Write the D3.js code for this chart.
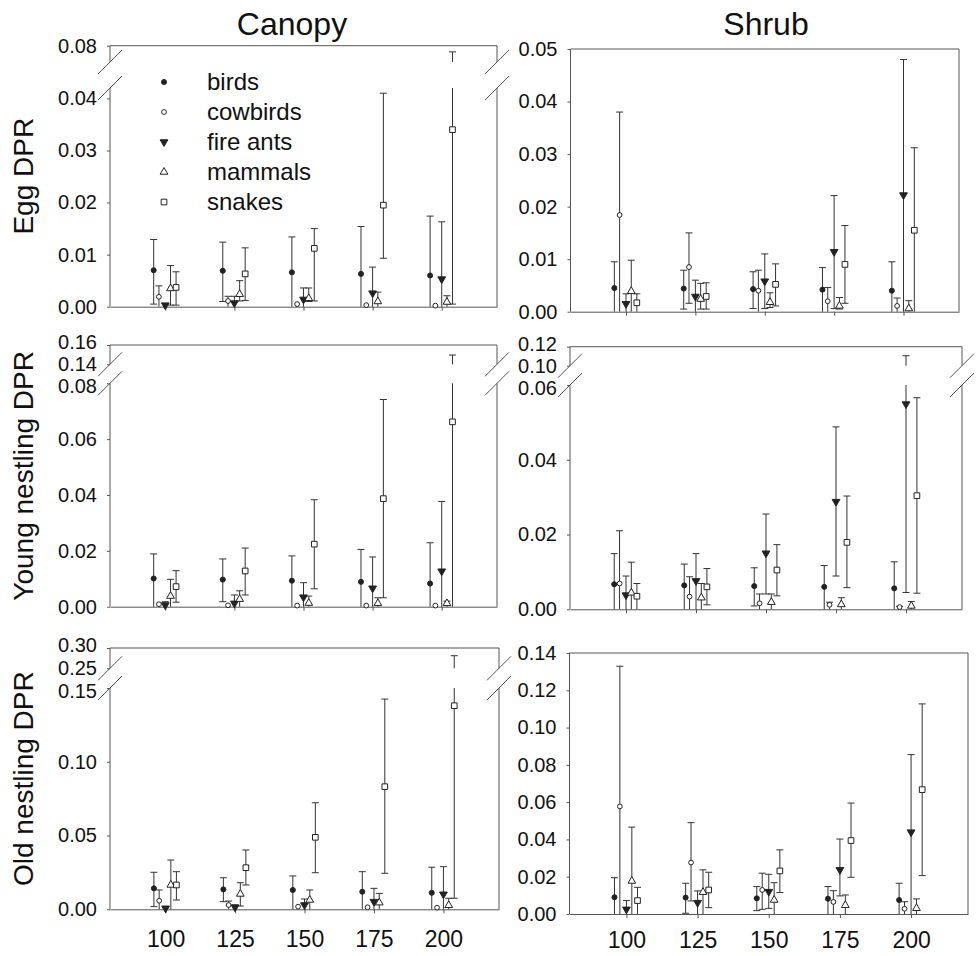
<!DOCTYPE html>
<html>
<head>
<meta charset="utf-8">
<script src="https://cdn.jsdelivr.net/npm/d3@7"></script>
<style>
  body { margin: 0; background: #fff; }
  text { font-family: "Liberation Sans", Arial, Helvetica, sans-serif; fill: #111; }
</style>
</head>
<body>
<svg id="chart" width="976" height="956"></svg>
<script>
// predator classes, drawn left to right inside each group
var series = ['birds', 'cowbirds', 'fire ants', 'mammals', 'snakes']
var groups = [100, 125, 150, 175, 200]
var columns = ['Canopy', 'Shrub']
var rowLabels = ['Egg DPR', 'Young nestling DPR', 'Old nestling DPR']

// one row per series, one column per group
var eggCanopyMean = [
  [0.0070, 0.0069, 0.0066, 0.0063, 0.0060],
  [0.0019, 0.0011, 0.0005, 0.0003, 0.0002],
  [0.0003, 0.0007, 0.0014, 0.0026, 0.0053],
  [0.0035, 0.0024, 0.0016, 0.0010, 0.0009],
  [0.0037, 0.0063, 0.0112, 0.0195, 0.0340]
]
var eggCanopyHigh = [
  [0.0129, 0.0124, 0.0134, 0.0154, 0.0174],
  [0.0040, 0.0020, 0.0005, 0.0003, 0.0002],
  [0.0003, 0.0020, 0.0036, 0.0076, 0.0163],
  [0.0079, 0.0050, 0.0036, 0.0028, 0.0021],
  [0.0067, 0.0113, 0.0150, 0.0410, 0.0780]
]
var eggCanopyLow = [
  [0.0005, 0.0010, 0, 0, 0],
  [0, 0, 0, 0, 0],
  [0, 0, 0, 0, 0],
  [0.0003, 0.0011, 0.0010, 0, 0],
  [0.0003, 0.0012, 0.0011, 0.0093, 0.0005]
]

var eggShrubMean = [
  [0.0045, 0.0044, 0.0043, 0.0042, 0.0040],
  [0.0184, 0.0085, 0.0040, 0.0020, 0.0011],
  [0.0015, 0.0029, 0.0058, 0.0114, 0.0222],
  [0.0039, 0.0024, 0.0018, 0.0011, 0.0006],
  [0.0017, 0.0029, 0.0052, 0.0090, 0.0155]
]
var eggShrubHigh = [
  [0.0095, 0.0079, 0.0076, 0.0084, 0.0095],
  [0.0380, 0.0150, 0.0079, 0.0046, 0.0026],
  [0.0034, 0.0060, 0.0110, 0.0221, 0.0480],
  [0.0098, 0.0054, 0.0036, 0.0027, 0.0021],
  [0.0034, 0.0055, 0.0091, 0.0164, 0.0312]
]
var eggShrubLow = [
  [0, 0.0005, 0.0006, 0, 0],
  [0, 0.0016, 0, 0, 0],
  [0, 0, 0.0006, 0.0006, 0],
  [0, 0.0005, 0.0008, 0.0005, 0],
  [0, 0.0005, 0.0011, 0.0016, 0]
]

var youngCanopyMean = [
  [0.0101, 0.0097, 0.0093, 0.0089, 0.0083],
  [0.0009, 0.0005, 0.0004, 0.0004, 0.0004],
  [0.0006, 0.0012, 0.0034, 0.0066, 0.0127],
  [0.0038, 0.0027, 0.0013, 0.0012, 0.0012],
  [0.0072, 0.0128, 0.0224, 0.0387, 0.0662]
]
var youngCanopyHigh = [
  [0.0189, 0.0171, 0.0182, 0.0205, 0.0229],
  [0.0009, 0.0005, 0.0004, 0.0004, 0.0004],
  [0.0018, 0.0042, 0.0086, 0.0178, 0.0377],
  [0.0098, 0.0057, 0.0038, 0.0032, 0.0020],
  [0.0129, 0.0210, 0.0383, 0.0742, 0.1496]
]
var youngCanopyLow = [
  [0, 0.0018, 0, 0, 0],
  [0, 0, 0, 0, 0],
  [0, 0, 0, 0, 0],
  [0, 0, 0, 0, 0],
  [0.0016, 0.0042, 0.0064, 0.0032, 0]
]

var youngShrubMean = [
  [0.0067, 0.0064, 0.0062, 0.0060, 0.0056],
  [0.0069, 0.0034, 0.0016, 0.0012, 0.0006],
  [0.0038, 0.0076, 0.0150, 0.0288, 0.0549],
  [0.0044, 0.0031, 0.0019, 0.0013, 0.0009],
  [0.0035, 0.0060, 0.0105, 0.0179, 0.0304]
]
var youngShrubHigh = [
  [0.0149, 0.0121, 0.0111, 0.0117, 0.0127],
  [0.0210, 0.0087, 0.0041, 0.0019, 0.0008],
  [0.0089, 0.0149, 0.0255, 0.0488, 0.1105],
  [0.0126, 0.0069, 0.0041, 0.0031, 0.0021],
  [0.0069, 0.0109, 0.0173, 0.0303, 0.0566]
]
var youngShrubLow = [
  [0, 0, 0.0009, 0, 0],
  [0, 0, 0, 0, 0],
  [0, 0, 0.0041, 0.0089, 0.0045],
  [0, 0, 0, 0, 0],
  [0, 0.0012, 0.0036, 0.0058, 0.0043]
]

var oldCanopyMean = [
  [0.0142, 0.0135, 0.0131, 0.0119, 0.0112],
  [0.0058, 0.0029, 0.0018, 0.0014, 0.0011],
  [0.0007, 0.0014, 0.0029, 0.0052, 0.0102],
  [0.0165, 0.0104, 0.0063, 0.0045, 0.0027],
  [0.0165, 0.0282, 0.0488, 0.0831, 0.1380]
]
var oldCanopyHigh = [
  [0.0251, 0.0214, 0.0226, 0.0255, 0.0285],
  [0.0131, 0.0056, 0.0018, 0.0014, 0.0011],
  [0.0007, 0.0030, 0.0070, 0.0142, 0.0289],
  [0.0334, 0.0180, 0.0131, 0.0108, 0.0075],
  [0.0255, 0.0402, 0.0722, 0.1425, 0.2810]
]
var oldCanopyLow = [
  [0.0018, 0.0052, 0, 0, 0],
  [0, 0, 0, 0, 0],
  [0, 0, 0, 0, 0],
  [0, 0.0022, 0, 0, 0],
  [0.0063, 0.0165, 0.0248, 0.0244, 0.0075]
]

var oldShrubMean = [
  [0.0090, 0.0088, 0.0084, 0.0082, 0.0075],
  [0.0577, 0.0276, 0.0129, 0.0065, 0.0028],
  [0.0025, 0.0061, 0.0120, 0.0237, 0.0439],
  [0.0177, 0.0117, 0.0075, 0.0047, 0.0031],
  [0.0072, 0.0129, 0.0231, 0.0394, 0.0667]
]
var oldShrubHigh = [
  [0.0195, 0.0165, 0.0147, 0.0147, 0.0165],
  [0.1329, 0.0490, 0.0219, 0.0125, 0.0066],
  [0.0072, 0.0124, 0.0213, 0.0402, 0.0855],
  [0.0466, 0.0237, 0.0168, 0.0102, 0.0081],
  [0.0143, 0.0224, 0.0344, 0.0595, 0.1127]
]
var oldShrubLow = [
  [0, 0.0004, 0.0018, 0, 0],
  [0, 0.0070, 0.0025, 0, 0],
  [0, 0, 0.0030, 0.0097, 0],
  [0, 0, 0, 0, 0],
  [0, 0.0034, 0.0115, 0.0197, 0.0206]
]

// tick labels per panel
var eggCanopyTicks = [0, 0.01, 0.02, 0.03, 0.04, 0.08]
var eggShrubTicks = [0, 0.01, 0.02, 0.03, 0.04, 0.05]
var youngCanopyTicks = [0, 0.02, 0.04, 0.06, 0.08, 0.14, 0.16]
var youngShrubTicks = [0, 0.02, 0.04, 0.06, 0.10, 0.12]
var oldCanopyTicks = [0, 0.05, 0.10, 0.15, 0.25, 0.30]
var oldShrubTicks = [0, 0.02, 0.04, 0.06, 0.08, 0.10, 0.12, 0.14]

// y domains; four stops = broken axis (low segment, then high segment)
var eggCanopyDomain = [0, 0.042, 0.0747, 0.08]
var eggShrubDomain = [0, 0.05]
var youngCanopyDomain = [0, 0.08, 0.14, 0.16]
var youngShrubDomain = [0, 0.06, 0.10, 0.12]
var oldCanopyDomain = [0, 0.15, 0.25, 0.30]
var oldShrubDomain = [0, 0.14]

var siteDomain = [80, 220]
// small horizontal dodge of each series around the group value
var dodge = [-4.2, -2.3, 0, 1.9, 3.9]

var panels = [
  {col: 0, row: 0, mean: eggCanopyMean, hi: eggCanopyHigh, lo: eggCanopyLow, ticks: eggCanopyTicks, domain: eggCanopyDomain,
   xr: [110, 497], yr: [306.7, 88, 62, 45.7]},
  {col: 1, row: 0, mean: eggShrubMean, hi: eggShrubHigh, lo: eggShrubLow, ticks: eggShrubTicks, domain: eggShrubDomain,
   xr: [570.5, 959], yr: [311.7, 49]},
  {col: 0, row: 1, mean: youngCanopyMean, hi: youngCanopyHigh, lo: youngCanopyLow, ticks: youngCanopyTicks, domain: youngCanopyDomain,
   xr: [110, 497], yr: [606.7, 383.3, 364.3, 345]},
  {col: 1, row: 1, mean: youngShrubMean, hi: youngShrubHigh, lo: youngShrubLow, ticks: youngShrubTicks, domain: youngShrubDomain,
   xr: [570, 962], yr: [609.3, 385, 365.7, 346.7]},
  {col: 0, row: 2, mean: oldCanopyMean, hi: oldCanopyHigh, lo: oldCanopyLow, ticks: oldCanopyTicks, domain: oldCanopyDomain,
   xr: [110, 499], yr: [909.3, 688, 668.3, 648]},
  {col: 1, row: 2, mean: oldShrubMean, hi: oldShrubHigh, lo: oldShrubLow, ticks: oldShrubTicks, domain: oldShrubDomain,
   xr: [569.5, 968], yr: [914, 653]}
]

var svg = d3.select('#chart')
var ink = '#222'
var lineInk = '#555'

var symbols = [
  {type: d3.symbolCircle, size: 20, fill: ink, rotate: 0},
  {type: d3.symbolCircle, size: 18, fill: '#fff', rotate: 0},
  {type: d3.symbolTriangle, size: 26, fill: ink, rotate: 180},
  {type: d3.symbolTriangle, size: 26, fill: '#fff', rotate: 0},
  {type: d3.symbolSquare, size: 32, fill: '#fff', rotate: 0}
]

function drawMarker(g, s, cx, cy) {
  var sym = symbols[s]
  g.append('path')
   .attr('d', d3.symbol().type(sym.type).size(sym.size)())
   .attr('transform', 'translate(' + cx + ',' + cy + ') rotate(' + sym.rotate + ')')
   .attr('fill', sym.fill)
   .attr('stroke', ink)
   .attr('stroke-width', 1)
}

panels.forEach(function(p) {
  var x = d3.scaleLinear().domain(siteDomain).range(p.xr)
  var y = d3.scaleLinear().domain(p.domain).range(p.yr)
  var broken = p.domain.length == 4
  var x0 = p.xr[0], x1 = p.xr[1]
  var yBottom = p.yr[0], yTop = p.yr[p.yr.length - 1]
  var g = svg.append('g')

  // bottom axis with small ticks at group centres
  var xAxis = d3.axisBottom(x).tickValues(groups).tickSize(4).tickSizeOuter(0)
                .tickPadding(p.col == 0 ? 17 : 14)
  if (p.row < 2) xAxis.tickFormat('')
  var xg = g.append('g').attr('transform', 'translate(0,' + yBottom + ')').call(xAxis)
  xg.select('.domain').attr('stroke', lineInk)
  xg.selectAll('.tick line').attr('stroke', lineInk)
  xg.selectAll('text').attr('font-size', 23).attr('fill', '#111')
    .attr('font-family', '"Liberation Sans", Arial, sans-serif')

  // left axis labels (axis line drawn separately because of the break)
  var yAxis = d3.axisLeft(y).tickValues(p.ticks).tickFormat(d3.format('.2f')).tickSize(3).tickPadding(10)
  var yg = g.append('g').attr('transform', 'translate(' + x0 + ',0)').call(yAxis)
  yg.select('.domain').remove()
  yg.selectAll('.tick line').attr('stroke', lineInk)
  yg.selectAll('text').attr('font-size', 20).attr('fill', '#111')
    .attr('font-family', '"Liberation Sans", Arial, sans-serif')
  // labels crowded around a break get pushed apart a little
  if (broken && p.ticks.indexOf(p.domain[2]) >= 0) {
    yg.selectAll('.tick text').attr('transform', function(d) {
      if (d == p.domain[3]) return 'translate(0,-3)'
      if (d == p.domain[1]) return 'translate(0,3)'
      return null
    })
  }

  // frame
  g.append('line').attr('x1', x0).attr('x2', x1).attr('y1', yTop).attr('y2', yTop)
   .attr('stroke', lineInk)
  ;[x0, x1].forEach(function(xs) {
    var segs = broken ? [[yBottom, p.yr[1]], [p.yr[2], yTop]] : [[yBottom, yTop]]
    segs.forEach(function(s) {
      g.append('line').attr('x1', xs).attr('x2', xs).attr('y1', s[0]).attr('y2', s[1])
       .attr('stroke', lineInk)
    })
    if (broken) {
      [p.yr[1], p.yr[2]].forEach(function(yb) {
        g.append('line')
         .attr('x1', xs - 12).attr('y1', yb + 12)
         .attr('x2', xs + 12).attr('y2', yb - 12)
         .attr('stroke', lineInk)
      })
    }
  })

  // error bars first, markers on top
  series.forEach(function(name, s) {
    groups.forEach(function(grp, j) {
      var cx = x(grp + dodge[s])
      var m = p.mean[s][j], hi = p.hi[s][j], lo = p.lo[s][j]
      var segs
      if (broken && hi > p.domain[1]) {
        segs = [[lo, p.domain[1]], [p.domain[2], hi]]
      } else {
        segs = [[lo, hi]]
      }
      if (hi > m) {
        segs.forEach(function(s2) {
          g.append('line').attr('x1', cx).attr('x2', cx)
           .attr('y1', y(s2[0])).attr('y2', y(s2[1]))
           .attr('stroke', '#333').attr('stroke-width', 1)
        })
        g.append('line').attr('x1', cx - 3.5).attr('x2', cx + 3.5)
         .attr('y1', y(hi)).attr('y2', y(hi))
         .attr('stroke', '#333').attr('stroke-width', 1)
        if (lo > 0) {
          g.append('line').attr('x1', cx - 3.5).attr('x2', cx + 3.5)
           .attr('y1', y(lo)).attr('y2', y(lo))
           .attr('stroke', '#333').attr('stroke-width', 1)
        }
      }
    })
  })
  series.forEach(function(name, s) {
    groups.forEach(function(grp, j) {
      drawMarker(g, s, x(grp + dodge[s]), y(p.mean[s][j]))
    })
  })

  // column titles and row labels
  if (p.row == 0) {
    svg.append('text')
       .attr('x', p.col == 0 ? 292 : 766).attr('y', 35)
       .attr('text-anchor', 'middle').attr('font-size', 32)
       .text(columns[p.col])
  }
  if (p.col == 0) {
    svg.append('text')
       .attr('transform', 'translate(33,' + ((yTop + yBottom) / 2) + ') rotate(-90)')
       .attr('text-anchor', 'middle').attr('font-size', 28)
       .text(rowLabels[p.row])
  }
})

// legend inside the first panel
var legend = svg.append('g')
series.forEach(function(name, s) {
  var ly = 90 + s * 30
  drawMarker(legend, s, 164, ly - 8)
  legend.append('text').attr('x', 207).attr('y', ly).attr('font-size', 24).text(name)
})
</script>
</body>
</html>
